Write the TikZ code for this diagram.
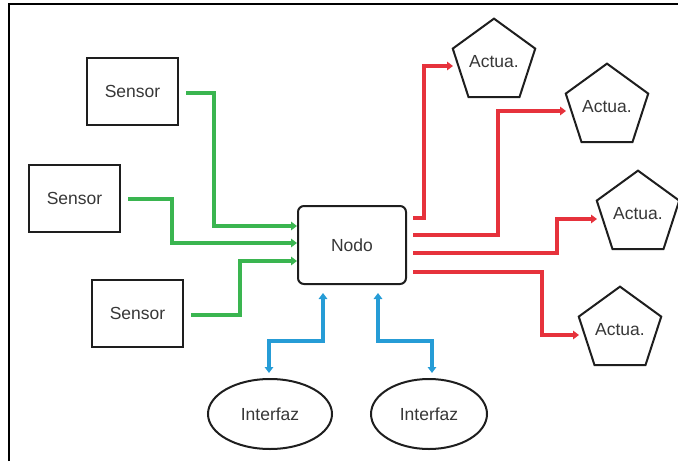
\documentclass[tikz,border=0pt]{standalone}
\usepackage{fontspec}
\setmainfont{Liberation Sans}
\usetikzlibrary{shapes.geometric,arrows.meta,calc}
\definecolor{grn}{RGB}{58,181,80}
\definecolor{rd}{RGB}{230,50,60}
\definecolor{bl}{RGB}{38,156,214}
\definecolor{txt}{RGB}{55,55,55}
\definecolor{edge}{RGB}{30,30,30}
\tikzset{
  lbl/.style={font=\fontsize{17.5}{20}\selectfont, text=txt},
  sensorbox/.style={lbl, draw=edge, line width=2.4pt, rectangle, minimum width=91pt, minimum height=67pt, inner sep=0pt},
  nodobox/.style={lbl, draw=edge, line width=2pt, rectangle, rounded corners=6pt, minimum width=108pt, minimum height=78pt, inner sep=0pt},
  actbox/.style={lbl, draw=edge, line width=2pt, regular polygon, regular polygon sides=5, minimum size=84pt, inner sep=0pt},
  ifbox/.style={lbl, draw=edge, line width=2pt, ellipse, minimum height=70pt, inner sep=0pt},
  conn/.style={line width=3.8pt, -{Triangle[length=6pt,width=8.5pt]}},
  garr/.style={conn, draw=grn, color=grn},
  rarr/.style={conn, draw=rd, color=rd},
  barr/.style={line width=3.8pt, draw=bl, color=bl, {Triangle[length=6pt,width=8.5pt]}-{Triangle[length=6pt,width=8.5pt]}},
  frame/.style={line width=2.6pt, draw=black}
}
\begin{document}
\begin{tikzpicture}[x=1pt,y=-1pt]
\useasboundingbox (0,0) rectangle (678,461);
% frame (top and left edges visible)
\coordinate (fa) at (9,461);
\coordinate (fb) at (9,4);
\coordinate (fc) at (678,4);
\draw[frame] (fa) -- (fb) -- (fc);

% nodes
\node[sensorbox] (s1) at (132.5,91.5) {Sensor};
\node[sensorbox] (s2) at (74.5,198.5) {Sensor};
\node[sensorbox] (s3) at (137.5,313.5) {Sensor};
\node[nodobox] (nodo) at (352,245) {Nodo};
\node[actbox] (a1) at (494,62) {Actua.};
\node[actbox] (a2) at (607,107) {Actua.};
\node[actbox] (a3) at (638,214) {Actua.};
\node[actbox] (a4) at (620,330) {Actua.};
\node[ifbox, minimum width=124pt] (i1) at (270,414) {Interfaz};
\node[ifbox, minimum width=116pt] (i2) at (429,414) {Interfaz};

% green connectors (sensors -> nodo)
\coordinate (g1) at (214,226);
\coordinate (g2) at (172,243);
\coordinate (g3) at (240,261);
\draw[garr] ($(s1.east)+(7,1.5)$) -| (g1) -- (nodo.west |- g1);
\draw[garr] ($(s2.east)+(7,0.5)$) -| (g2) -- (nodo.west |- g2);
\draw[garr] ($(s3.east)+(7,1.5)$) -| (g3) -- (nodo.west |- g3);

% red connectors (nodo -> actuators)
\coordinate (r1) at (424,66);
\coordinate (r2) at (498,111);
\coordinate (r3) at (557,219);
\coordinate (r4) at (542,335);
\coordinate (t1) at (453,66);
\coordinate (t2) at (566,111);
\coordinate (t3) at (597,219);
\coordinate (t4) at (579,335);
\draw[rarr] ($(nodo.east)+(6,-27)$) -| (r1) -- (t1);
\draw[rarr] ($(nodo.east)+(6,-10)$) -| (r2) -- (t2);
\draw[rarr] ($(nodo.east)+(6,8)$) -| (r3) -- (t3);
\draw[rarr] ($(nodo.east)+(6,27)$) -| (r4) -- (t4);

% blue connectors (nodo <-> interfaces)
\coordinate (b1) at (323,341);
\coordinate (b2) at (378,341);
\draw[barr] ($(nodo.south)+(-29,8)$) -- (b1) -| ($(i1.north)+(-1,-5)$);
\draw[barr] ($(nodo.south)+(26,8)$) -- (b2) -| ($(i2.north)+(3,-5)$);
\end{tikzpicture}
\end{document}
